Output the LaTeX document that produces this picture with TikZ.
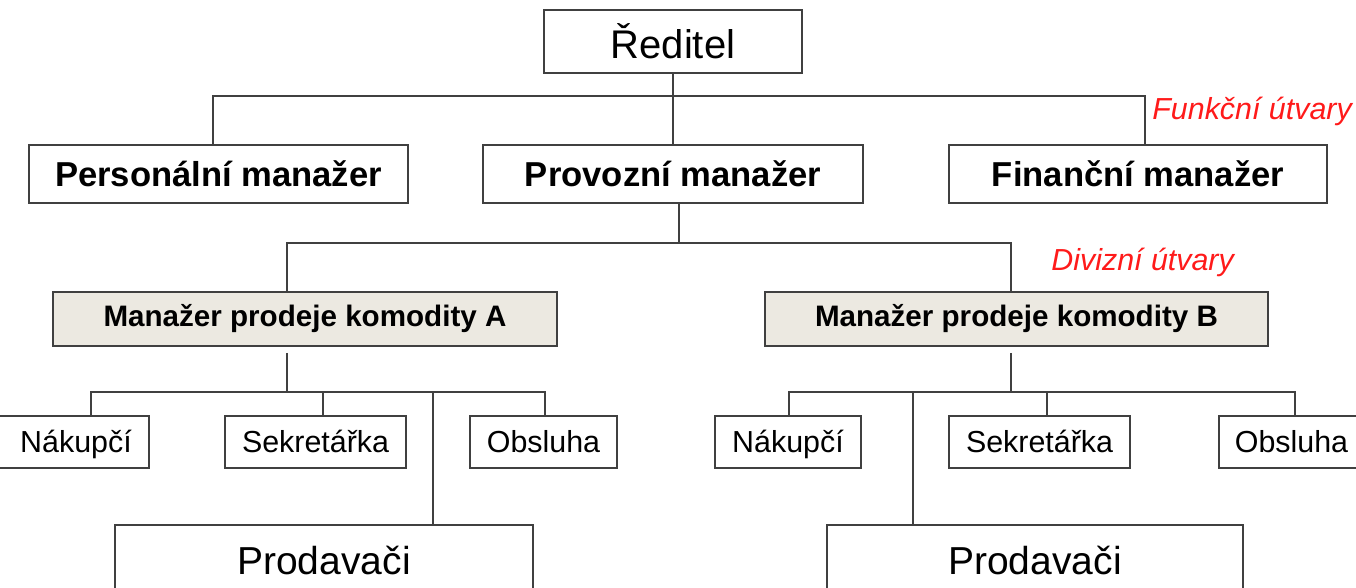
\documentclass[tikz,border=0pt]{standalone}
\usepackage{fontspec}
\setmainfont{Liberation Sans}
\definecolor{linec}{HTML}{404040}
\definecolor{mgrfill}{HTML}{ECE9E1}
\definecolor{redlab}{HTML}{FF1A1A}
\begin{document}
\begin{tikzpicture}[x=0.5pt,y=-0.5pt,
  box/.style={draw=linec, line width=1pt, fill=white, rectangle, inner sep=0pt, align=center},
  mgr/.style={box, fill=mgrfill},
  conn/.style={draw=linec, line width=1pt},
  lab/.style={text=redlab, anchor=west, inner sep=0pt},
  fA/.style={font=\fontsize{20}{24}\selectfont},
  fB/.style={font=\bfseries\fontsize{17.3}{20}\selectfont},
  fC/.style={font=\bfseries\fontsize{14.8}{18}\selectfont},
  fD/.style={font=\fontsize{15.2}{18}\selectfont, text height=13pt, text depth=3pt},
  fE/.style={font=\fontsize{19.5}{23}\selectfont},
  fL/.style={font=\itshape\fontsize{15.2}{18}\selectfont}]
\clip (0,0) rectangle (1356,588);
\fill[white] (0,0) rectangle (1356,588);
% top level
\node[box,fA,minimum width=129pt,minimum height=31.5pt] (red) at (673,41.5) {Ředitel};
\node[box,fB,minimum width=189.5pt,minimum height=29pt] (pers) at (218.5,174) {Personální manažer};
\node[box,fB,minimum width=190pt,minimum height=29pt] (prov) at (673,174) {Provozní manažer};
\node[box,fB,minimum width=189pt,minimum height=29pt] (fin) at (1138,174) {Finanční manažer};
% division managers
\node[mgr,fC,minimum width=252pt,minimum height=27pt] (mA) at (305,319) {Manažer prodeje komodity A};
\node[mgr,fC,minimum width=251.5pt,minimum height=27pt] (mB) at (1016.5,319) {Manažer prodeje komodity B};
% staff A
\node[box,fD,minimum width=77pt,minimum height=26pt] (nA) at (72,442) {\hspace*{4pt}Nákupčí};
\node[box,fD,minimum width=90.5pt,minimum height=26pt] (sA) at (315.5,442) {Sekretářka};
\node[box,fD,minimum width=73.5pt,minimum height=26pt] (oA) at (543.5,442) {Obsluha};
\node[box,fE,minimum width=209pt,minimum height=35pt] (pA) at (324,560) {Prodavači};
% staff B
\node[box,fD,minimum width=73pt,minimum height=26pt] (nB) at (788,442) {Nákupčí};
\node[box,fD,minimum width=90.5pt,minimum height=26pt] (sB) at (1039.5,442) {Sekretářka};
\node[box,fD,minimum width=75.5pt,minimum height=26pt] (oB) at (1294.5,442) {Obsluha\hspace*{3pt}};
\node[box,fE,minimum width=208pt,minimum height=35pt] (pB) at (1035,560) {Prodavači};
% labels
\node[lab,fL] (fu) at (1152,111) {Funkční útvary};
\node[lab,fL] (du) at (1051,262) {Divizní útvary};
% level 1 connectors
\coordinate (b0L) at (213,96);
\coordinate (b0R) at (1145,96);
\draw[conn] (red.south) -- (prov.north);
\draw[conn] (b0L |- pers.north) -- (b0L) -- (b0R) -- (b0R |- fin.north);
% level 2 connectors
\coordinate (b1L) at (287,243);
\coordinate (b1R) at (1011,243);
\coordinate (b1M) at (679,243);
\draw[conn] (b1M |- prov.south) -- (b1M);
\draw[conn] (b1L |- mA.north) -- (b1L) -- (b1R) -- (b1R |- mB.north);
% bus A
\coordinate (aT) at (287,353);
\coordinate (aL) at (91,392);
\coordinate (aR) at (545,392);
\coordinate (aS) at (323,392);
\coordinate (aP) at (433,392);
\draw[conn] (aT) -- (aT |- aL);
\draw[conn] (aL |- nA.north) -- (aL) -- (aR) -- (aR |- oA.north);
\draw[conn] (aS) -- (aS |- sA.north);
\draw[conn] (aP) -- (aP |- pA.north);
% bus B
\coordinate (bT) at (1011,353);
\coordinate (bL) at (789,392);
\coordinate (bR) at (1295,392);
\coordinate (bS) at (1047,392);
\coordinate (bP) at (913,392);
\draw[conn] (bT) -- (bT |- bL);
\draw[conn] (bL |- nB.north) -- (bL) -- (bR) -- (bR |- oB.north);
\draw[conn] (bS) -- (bS |- sB.north);
\draw[conn] (bP) -- (bP |- pB.north);
\end{tikzpicture}
\end{document}
